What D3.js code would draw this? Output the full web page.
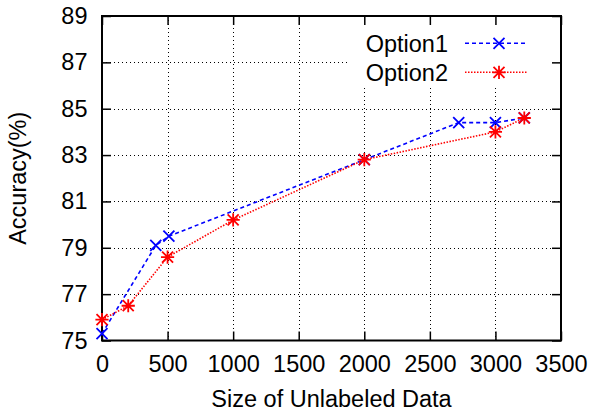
<!DOCTYPE html>
<html>
<head>
<meta charset="utf-8">
<script src="https://cdn.jsdelivr.net/npm/d3@7"></script>
<style>
  body { margin: 0; background: #fff; }
  svg { display: block; font-family: "Liberation Sans", Arial, sans-serif; }
</style>
</head>
<body>
<svg id="chart" width="592" height="410"></svg>
<script>
// data
const opt1X = [0, 410, 510, 2000, 2720, 3000, 3220];
const opt1Y = [75.3, 79.1, 79.5, 82.8, 84.4, 84.4, 84.6];
const opt2X = [0, 200, 500, 1000, 2000, 3000, 3220];
const opt2Y = [75.9, 76.5, 78.6, 80.2, 82.8, 84.0, 84.6];
const xTicks = [0, 500, 1000, 1500, 2000, 2500, 3000, 3500];
const yTicks = [75, 77, 79, 81, 83, 85, 87, 89];
const seriesNames = ['Option1', 'Option2'];

const FONT_SIZE = 23.5;
const TICK_LEN = 9;
const COLOR_1 = '#0000ff';
const COLOR_2 = '#ff0000';

const margin = { left: 102, top: 16, right: 31, bottom: 69.5 };
const W = 592, H = 410;
const innerW = W - margin.left - margin.right;
const innerH = H - margin.top - margin.bottom;

const svg = d3.select('#chart');
const g = svg.append('g').attr('transform', `translate(${margin.left},${margin.top})`);

const x = d3.scaleLinear().domain([0, 3500]).range([0, innerW]);
const y = d3.scaleLinear().domain([75, 89]).range([innerH, 0]);

// legend box area (grid is hidden behind it)
const legendBox = { x0: 248, y1: 72 };

// grid
const grid = g.append('g').attr('stroke', '#000').attr('stroke-width', 1)
    .attr('stroke-dasharray', '1,3');
yTicks.slice(1, -1).forEach(t => {
    const yy = Math.round(y(t)) + 0.5;
    const x2 = y(t) < legendBox.y1 ? legendBox.x0 : innerW;
    grid.append('line').attr('x1', 0).attr('x2', x2).attr('y1', yy).attr('y2', yy);
});
xTicks.slice(1, -1).forEach(t => {
    const xx = Math.round(x(t)) + 0.5;
    const y1 = x(t) > legendBox.x0 ? legendBox.y1 : 0;
    grid.append('line').attr('x1', xx).attr('x2', xx).attr('y1', y1).attr('y2', innerH);
});

// axes: ticks pointing inward on all four sides
function styleAxis(sel) {
    sel.select('.domain').remove();
    sel.selectAll('.tick line').attr('stroke', '#000').attr('stroke-width', 1.5);
    sel.selectAll('text').attr('font-size', FONT_SIZE).attr('fill', '#000')
        .attr('font-family', '"Liberation Sans", Arial, sans-serif');
}
g.append('g').attr('transform', `translate(0,${innerH})`)
    .call(d3.axisBottom(x).tickValues(xTicks).tickFormat(d3.format('d'))
        .tickSizeInner(-TICK_LEN).tickSizeOuter(0).tickPadding(14.5))
    .call(styleAxis);
g.append('g')
    .call(d3.axisTop(x).tickValues(xTicks).tickFormat('')
        .tickSizeInner(-TICK_LEN).tickSizeOuter(0))
    .call(styleAxis);
g.append('g')
    .call(d3.axisLeft(y).tickValues(yTicks).tickFormat(d3.format('d'))
        .tickSizeInner(-TICK_LEN).tickSizeOuter(0).tickPadding(14.5))
    .call(styleAxis);
g.append('g').attr('transform', `translate(${innerW},0)`)
    .call(d3.axisRight(y).tickValues(yTicks).tickFormat('')
        .tickSizeInner(-TICK_LEN).tickSizeOuter(0))
    .call(styleAxis);

// border
g.append('rect').attr('width', innerW).attr('height', innerH)
    .attr('fill', 'none').attr('stroke', '#000').attr('stroke-width', 2);

// markers
function crossMark(sel, cx, cy, color) {
    const r = 5.5;
    sel.append('path')
        .attr('d', `M${cx - r},${cy - r}L${cx + r},${cy + r}M${cx - r},${cy + r}L${cx + r},${cy - r}`)
        .attr('stroke', color).attr('stroke-width', 1.8).attr('fill', 'none');
}
function starMark(sel, cx, cy, color) {
    const r = 5.5;
    sel.append('path')
        .attr('d', `M${cx - r},${cy - r}L${cx + r},${cy + r}M${cx - r},${cy + r}L${cx + r},${cy - r}` +
            `M${cx - r * 1.2},${cy}L${cx + r * 1.2},${cy}M${cx},${cy - r * 1.2}L${cx},${cy + r * 1.2}`)
        .attr('stroke', color).attr('stroke-width', 1.8).attr('fill', 'none');
}

const line = d3.line().x(d => x(d[0])).y(d => y(d[1]));
const series = [
    { name: seriesNames[0], pts: d3.zip(opt1X, opt1Y), color: COLOR_1, dash: '4,3', mark: crossMark },
    { name: seriesNames[1], pts: d3.zip(opt2X, opt2Y), color: COLOR_2, dash: '1.5,1.5', mark: starMark }
];

series.forEach(s => {
    g.append('path').datum(s.pts).attr('d', line)
        .attr('fill', 'none').attr('stroke', s.color).attr('stroke-width', 1.6)
        .attr('stroke-dasharray', s.dash);
    const mg = g.append('g');
    s.pts.forEach(p => s.mark(mg, x(p[0]), y(p[1]), s.color));
});

// legend
const legend = g.append('g');
series.forEach((s, i) => {
    const ly = 27.3 + i * 29;
    legend.append('text').attr('x', 346).attr('y', ly).attr('dy', '0.35em')
        .attr('text-anchor', 'end').attr('font-size', FONT_SIZE).text(s.name);
    legend.append('line').attr('x1', 363).attr('x2', 426).attr('y1', ly).attr('y2', ly)
        .attr('stroke', s.color).attr('stroke-width', 1.6).attr('stroke-dasharray', s.dash);
    s.mark(legend, 397, ly, s.color);
});

// axis titles
svg.append('text').attr('x', margin.left + innerW / 2).attr('y', 406.5)
    .attr('text-anchor', 'middle').attr('font-size', FONT_SIZE).text('Size of Unlabeled Data');
svg.append('text').attr('transform', `translate(26,${margin.top + innerH / 2}) rotate(-90)`)
    .attr('text-anchor', 'middle').attr('font-size', FONT_SIZE).text('Accuracy(%)');
</script>
</body>
</html>
